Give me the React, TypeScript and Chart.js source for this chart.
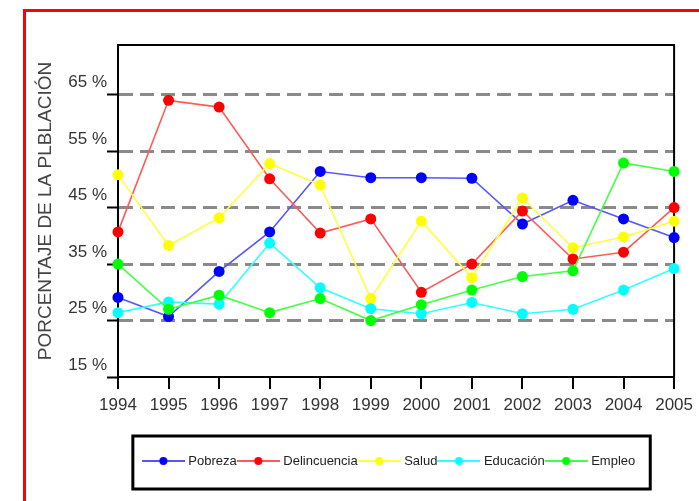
import { useEffect, useRef } from 'react';
import { Chart, registerables } from 'chart.js';

Chart.register(...registerables);

const years = ['1994', '1995', '1996', '1997', '1998', '1999', '2000', '2001', '2002', '2003', '2004', '2005'];
const pobreza = [29.1, 25.7, 33.7, 40.7, 51.4, 50.3, 50.3, 50.2, 42.1, 46.3, 43.0, 39.7];
const delincuencia = [40.7, 64.0, 62.8, 50.1, 40.5, 43.0, 30.0, 35.0, 44.4, 35.9, 37.1, 45.0];
const salud = [50.8, 38.3, 43.2, 52.8, 49.0, 28.9, 42.6, 32.6, 46.7, 37.9, 39.8, 42.6];
const educacion = [26.4, 28.3, 27.9, 38.7, 30.8, 27.1, 26.2, 28.2, 26.2, 27.0, 30.4, 34.2];
const empleo = [35.0, 27.0, 29.5, 26.4, 28.9, 25.0, 27.8, 30.4, 32.8, 33.8, 52.9, 51.4];

const seriesNames = ['Pobreza', 'Delincuencia', 'Salud', 'Educación', 'Empleo'];
const seriesValues = [pobreza, delincuencia, salud, educacion, empleo];
const markerColors = ['#0000ff', '#ff0000', '#ffff00', '#00ffff', '#00ff00'];
const lineColors = ['#5555ff', '#ff5a5a', '#ffff40', '#33ffff', '#44ff44'];

const yTicks = [15, 25, 35, 45, 55, 65];
const yMin = 15;
const yMax = 73.8;
const yTitle = 'PORCENTAJE DE LA PLBLACIÓN';

const FONT = "'Liberation Sans', Arial, sans-serif";
const LEGEND_PADDING = 3;
const LEGEND_FONT = 13;

function legendImage(lineColor: string, markerColor: string) {
  const c = document.createElement('canvas');
  c.width = 43;
  c.height = 12;
  const g = c.getContext('2d')!;
  g.strokeStyle = lineColor;
  g.lineWidth = 2;
  g.beginPath();
  g.moveTo(0, 6);
  g.lineTo(43, 6);
  g.stroke();
  g.fillStyle = markerColor;
  g.beginPath();
  g.arc(21.5, 6, 4, 0, Math.PI * 2);
  g.fill();
  return c;
}

const framePlugin = {
  id: 'frame',
  beforeDatasetsDraw(chart: any) {
    const { ctx, chartArea: a } = chart;
    ctx.save();
    ctx.strokeStyle = '#000';
    ctx.lineWidth = 2;
    ctx.strokeRect(a.left, a.top, a.right - a.left, a.bottom - a.top);
    ctx.restore();
  },
};

const LEGEND_SHIFT = 6;

const legendShiftPlugin = {
  id: 'legendShift',
  afterLayout(chart: any) {
    const lg = chart.legend;
    if (!lg) return;
    lg.left -= LEGEND_SHIFT;
    lg.right -= LEGEND_SHIFT;
  },
};

const legendBoxPlugin = {
  id: 'legendBox',
  afterDraw(chart: any) {
    const lg = chart.legend;
    if (!lg || !lg.lineWidths || !lg.lineWidths.length) return;
    const rowW = lg.lineWidths[0];
    const startX = (lg.left + LEGEND_PADDING + lg.right - rowW) / 2;
    const endX = startX + rowW - LEGEND_PADDING;
    const cy = lg.top + LEGEND_PADDING + LEGEND_FONT / 2;
    const left = startX - 12;
    const right = endX + 15;
    const top = cy - 25;
    const bottom = cy + 28;
    const { ctx } = chart;
    ctx.save();
    ctx.strokeStyle = '#000';
    ctx.lineWidth = 3;
    ctx.strokeRect(left, top, right - left, bottom - top);
    ctx.restore();
  },
};

export default function App() {
  const ref = useRef<HTMLCanvasElement>(null);

  useEffect(() => {
    if (!ref.current) return;
    const images = lineColors.map((lc, i) => legendImage(lc, markerColors[i]));
    const chart = new Chart(ref.current, {
      type: 'line',
      data: {
        labels: years,
        datasets: seriesNames.map((name, i) => ({
          label: name,
          data: seriesValues[i],
          borderColor: lineColors[i],
          backgroundColor: markerColors[i],
          pointBackgroundColor: markerColors[i],
          pointBorderColor: markerColors[i],
          pointBorderWidth: 0,
          pointRadius: 5.5,
          borderWidth: 1.6,
          tension: 0,
          fill: false,
          clip: false as any,
          order: seriesNames.length - i,
        })),
      },
      options: {
        animation: false,
        responsive: false,
        maintainAspectRatio: false,
        layout: { padding: { left: 0, top: 45, right: 23, bottom: 23.5 } },
        plugins: {
          tooltip: { enabled: false },
          legend: {
            position: 'bottom',
            fullSize: false,
            labels: {
              usePointStyle: true,
              pointStyleWidth: 37,
              padding: LEGEND_PADDING,
              color: '#222',
              font: { family: FONT, size: LEGEND_FONT },
              generateLabels: (c: any) => {
                const items = (Chart.defaults.plugins.legend.labels as any).generateLabels(c);
                items.sort((a: any, b: any) => a.datasetIndex - b.datasetIndex);
                return items.map((it: any) => ({ ...it, pointStyle: images[it.datasetIndex] }));
              },
            },
          },
        },
        scales: {
          x: {
            type: 'category',
            offset: false,
            afterFit: (s: any) => {
              s.height = 74.5;
            },
            grid: {
              display: true,
              drawOnChartArea: false,
              drawTicks: true,
              tickLength: 12,
              color: '#000',
              lineWidth: 2,
            },
            border: { display: true, color: '#000', width: 2 },
            ticks: {
              autoSkip: false,
              maxRotation: 0,
              padding: 6,
              color: '#333',
              font: { family: FONT, size: 17 },
            },
          },
          y: {
            type: 'linear',
            min: yMin,
            max: yMax,
            afterBuildTicks: (s: any) => {
              s.ticks = yTicks.map((v) => ({ value: v }));
            },
            afterFit: (s: any) => {
              s.width = 118;
            },
            grid: {
              display: true,
              drawOnChartArea: true,
              drawTicks: true,
              tickLength: 11,
              color: (ctx: any) => (ctx.tick && ctx.tick.value === yMin ? 'rgba(0,0,0,0)' : '#8a8a8a'),
              lineWidth: 3,
              tickColor: '#000',
              tickWidth: 2,
            },
            border: { display: true, color: '#000', width: 2, dash: [14, 7] },
            ticks: {
              padding: 0,
              labelOffset: -12,
              color: '#333',
              font: { family: FONT, size: 17 },
              callback: (v: any) => `${v} %`,
            },
            title: {
              display: true,
              text: yTitle,
              color: '#444',
              font: { family: FONT, size: 19, weight: 'normal' },
              padding: { top: 34, bottom: 0 },
            },
          },
        },
      } as any,
      plugins: [framePlugin, legendShiftPlugin, legendBoxPlugin],
    });
    return () => chart.destroy();
  }, []);

  return (
    <div style={{ position: 'absolute', left: 0, top: 0, width: 699, height: 501, overflow: 'hidden', background: '#fff' }}>
      <div
        style={{
          position: 'absolute',
          left: 23,
          top: 9,
          width: 720,
          height: 540,
          border: '3px solid #ff0000',
          boxSizing: 'border-box',
        }}
      />
      <canvas ref={ref} width={699} height={501} style={{ position: 'absolute', left: 0, top: 0, width: 699, height: 501 }} />
    </div>
  );
}
